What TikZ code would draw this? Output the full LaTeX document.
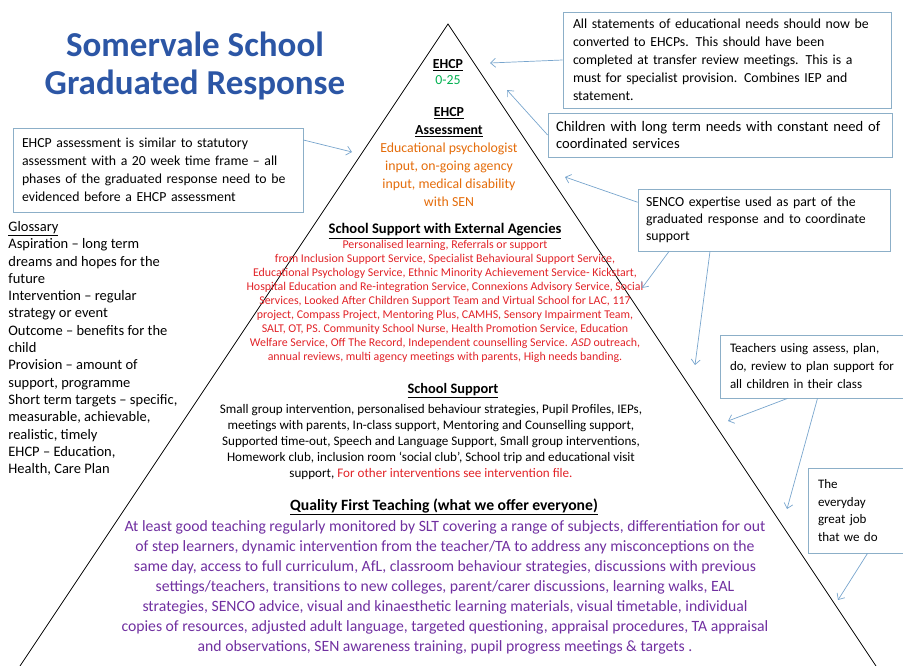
\documentclass[tikz,border=0pt]{standalone}
\usepackage{fontspec}
\setmainfont{Carlito}
\usetikzlibrary{arrows.meta,positioning}

\definecolor{titleblue}{RGB}{44,86,165}
\definecolor{boxblue}{RGB}{140,175,200}
\definecolor{arrowblue}{RGB}{120,165,205}
\definecolor{ehcpgreen}{RGB}{0,176,80}
\definecolor{agencyorange}{RGB}{228,108,10}
\definecolor{agencyred}{RGB}{225,35,40}
\definecolor{qftpurple}{RGB}{112,48,160}

\begin{document}
\begin{tikzpicture}[x=1pt, y=-1pt, >={Straight Barb[length=5pt,width=9pt]},
                    line width=0.8pt,
                    note/.style={draw=boxblue, align=left, inner ysep=3pt},
                    pointer/.style={->, draw=arrowblue, line width=0.7pt},
                    level/.style={align=center, inner sep=0pt}]
\tikzstyle{every node}=[font=\fontsize{13.8}{18}\selectfont]

\useasboundingbox (0,0) rectangle (903,666);

% title
\node [align=center, text=titleblue, font=\fontsize{35}{38}\bfseries\selectfont] (title) at (195,66)
      {Somervale School\\Graduated Response};

% triangle
\coordinate (apex) at (448,24);
\coordinate (bl) at (20,666);
\coordinate (br) at (876,666);
\draw (bl) -- (apex) -- (br);

% levels of the triangle
\node [level, font=\fontsize{13.8}{16}\selectfont] (ehcp) at (448,72)
      {\underline{\textbf{EHCP}}\\\textcolor{ehcpgreen}{0-25}};
\node [level, font=\fontsize{13.8}{18}\selectfont] (assess) at (449,157)
      {\underline{\textbf{EHCP}}\\\underline{\textbf{Assessment}}\\
       \textcolor{agencyorange}{Educational psychologist}\\
       \textcolor{agencyorange}{input, on-going agency}\\
       \textcolor{agencyorange}{input, medical disability}\\
       \textcolor{agencyorange}{with SEN}};
\node [level, font=\fontsize{14.6}{16}\selectfont] (agencyhead) at (445,231)
      {\underline{\textbf{School Support with External Agencies}}};
\node [level, text=agencyred, font=\fontsize{11.9}{14}\selectfont] (agency) at (445,301)
      {Personalised learning, Referrals or support\\
       from Inclusion Support Service, Specialist Behavioural Support Service,\\
       Educational Psychology Service, Ethnic Minority Achievement Service- Kickstart,\\
       Hospital Education and Re-integration Service, Connexions Advisory Service, Social\\
       Services, Looked After Children Support Team and Virtual School for LAC, 117\\
       project, Compass Project, Mentoring Plus, CAMHS, Sensory Impairment Team,\\
       SALT, OT, PS. Community School Nurse, Health Promotion Service, Education\\
       Welfare Service, Off The Record, Independent counselling Service. \textit{ASD} outreach,\\
       annual reviews, multi agency meetings with parents, High needs banding.};
\node [level, font=\fontsize{14.4}{16}\selectfont] (schoolhead) at (453,391)
      {\underline{\textbf{School Support}}};
\node [level, font=\fontsize{13.1}{16}\selectfont] (school) at (431,442)
      {Small group intervention, personalised behaviour strategies, Pupil Profiles, IEPs,\\
       meetings with parents, In-class support, Mentoring and Counselling support,\\
       Supported time-out, Speech and Language Support, Small group interventions,\\
       Homework club, inclusion room `social club', School trip and educational visit\\
       support, \textcolor{agencyred}{For other interventions see intervention file.}};
\node [level, font=\fontsize{15.7}{18}\selectfont] (qfthead) at (444,507)
      {\underline{\textbf{Quality First Teaching (what we offer everyone)}}};
\node [level, text=qftpurple, font=\fontsize{15.7}{20}\selectfont] (qft) at (445,587)
      {At least good teaching regularly monitored by SLT covering a range of subjects, differentiation for out\\
       of step learners, dynamic intervention from the teacher/TA to address any misconceptions on the\\
       same day, access to full curriculum, AfL, classroom behaviour strategies, discussions with previous\\
       settings/teachers, transitions to new colleges, parent/carer discussions, learning walks, EAL\\
       strategies, SENCO advice, visual and kinaesthetic learning materials, visual timetable, individual\\
       copies of resources, adjusted adult language, targeted questioning, appraisal procedures, TA appraisal\\
       and observations, SEN awareness training, pupil progress meetings \& targets .};

% glossary
\node [anchor=north west, align=left, inner sep=0pt, font=\fontsize{14.5}{17.3}\selectfont] (gloss) at (8,221)
      {\underline{Glossary}\\
       Aspiration -- long term\\
       dreams and hopes for the\\
       future\\
       Intervention -- regular\\
       strategy or event\\
       Outcome -- benefits for the\\
       child\\
       Provision -- amount of\\
       support, programme\\
       Short term targets -- specific,\\
       measurable, achievable,\\
       realistic, timely\\
       EHCP -- Education,\\
       Health, Care Plan};

% notes
\node [note, text width=308pt, inner xsep=10pt, minimum height=96pt] (a) at (727,60)
      {All statements of educational needs should now be\\
       converted to EHCPs. This should have been\\
       completed at transfer review meetings. This is a\\
       must for specialist provision. Combines IEP and\\
       statement.};
\node [note, text width=328pt, inner xsep=8pt, minimum height=44pt,
       font=\fontsize{14.6}{17}\selectfont] (b) at (720,135)
      {Children with long term needs with constant need of\\
       coordinated services};
\node [note, text width=272pt, inner xsep=9pt, minimum height=84pt] (c) at (158,170)
      {EHCP assessment is similar to statutory\\
       assessment with a 20 week time frame -- all\\
       phases of the graduated response need to be\\
       evidenced before a EHCP assessment};
\node [note, text width=236pt, inner xsep=8pt, minimum height=62pt,
       font=\fontsize{13.8}{17.3}\selectfont] (d) at (764,220)
      {SENCO expertise used as part of the\\
       graduated response and to coordinate\\
       support};
\node [note, text width=175pt, inner xsep=10pt, minimum height=63pt,
       font=\fontsize{13}{18}\selectfont] (e) at (817.5,366.5)
      {Teachers using assess, plan,\\
       do, review to plan support for\\
       all children in their class};
\node [note, text width=87pt, inner xsep=10pt, minimum height=85pt,
       font=\fontsize{13}{17.5}\selectfont] (f) at (861.5,510.5)
      {The\\everyday\\great job\\that we do};

% arrow ends
\coordinate (pa) at (490,63);
\coordinate (pb) at (507,90);
\coordinate (pc) at (352,152);
\coordinate (pd1) at (565,177);
\coordinate (pd2) at (642,288);
\coordinate (pd3) at (695,365);
\coordinate (pe1) at (728,421);
\coordinate (pe2) at (787,509);
\coordinate (pf) at (838,600);

\path (a.west) edge[pointer] (pa);
\path (b.west) edge[pointer] (pb);
\path ([yshift=30pt]c.east) edge[pointer] (pc);
\path (d.172) edge[pointer] (pd1);
\path ([xshift=-95pt]d.south) edge[pointer] (pd2);
\path ([xshift=-54pt]d.south) edge[pointer] (pd3);
\path ([xshift=-30pt]e.south) edge[pointer] (pe1);
\path (e.south) edge[pointer] (pe2);
\path ([xshift=6pt]f.south) edge[pointer] (pf);
\end{tikzpicture}
\end{document}
